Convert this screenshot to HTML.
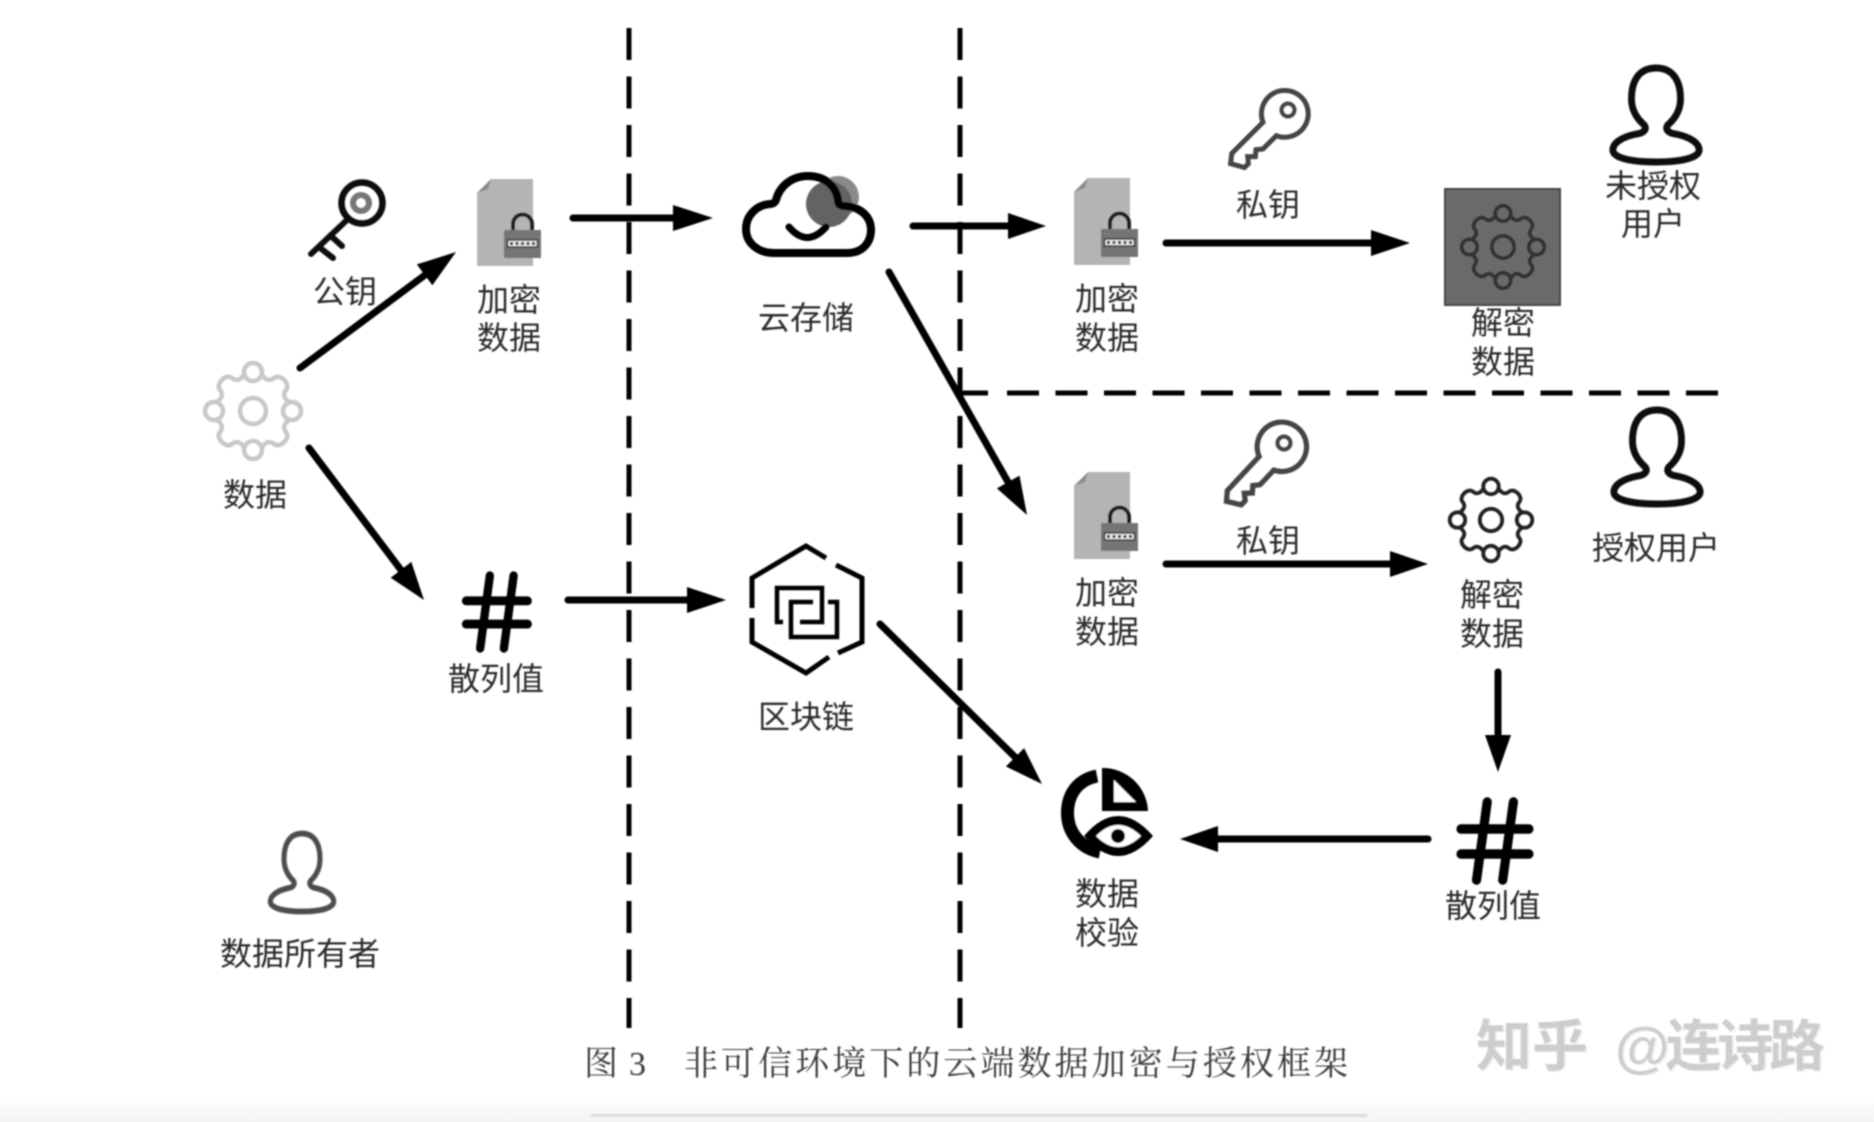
<!DOCTYPE html>
<html lang="zh"><head><meta charset="utf-8"><title>图3</title>
<style>
html,body{margin:0;padding:0;background:#fff;width:1874px;height:1122px;overflow:hidden}
svg{display:block;position:absolute;left:0;top:0}
.t{font-family:"Liberation Sans","Noto Sans CJK SC",sans-serif;font-size:32px;fill:#2a2a2a;text-anchor:middle}
.c{font-family:"Liberation Serif","Noto Serif CJK SC",serif;font-size:34px;fill:#3a3a3a}
.w{font-family:"Liberation Sans","Noto Sans CJK SC",sans-serif;font-size:56px;fill:#cdcdcd;font-weight:700;text-shadow:2px 1px 0 #f4f4f4}
.l{stroke:#000;stroke-width:7;stroke-linecap:round;fill:none}
.d{stroke:#000;stroke-width:5;fill:none;stroke-dasharray:32 16.5}
</style></head><body>
<svg width="1874" height="1122" viewBox="0 0 1874 1122" xmlns="http://www.w3.org/2000/svg">
<defs>
<linearGradient id="bg" x1="0" y1="0" x2="0" y2="1"><stop offset="0" stop-color="#fff"/><stop offset="1" stop-color="#f4f4f4"/></linearGradient>
<filter id="b" x="-5%" y="-5%" width="110%" height="110%"><feGaussianBlur stdDeviation="0.7"/></filter>
<g id="arc" fill="none">
<path d="M-9 -36 Q-15 -28 -21 -33 C-27 -38 -38 -27 -33 -21 Q-28 -15 -36 -9"/>
<circle cx="0" cy="-39" r="9"/>
</g>
<g id="gear" stroke="currentColor" stroke-width="4.5" fill="none">
<circle r="13"/>
<use href="#arc"/><use href="#arc" transform="rotate(90)"/><use href="#arc" transform="rotate(180)"/><use href="#arc" transform="rotate(270)"/>
</g>
<g id="doc">
<path d="M0 14L14 0H56V87H0Z" fill="#b4b4b4"/>
<path d="M0 14L11 10L14 0Z" fill="#8c8c8c"/>
<rect x="27" y="51" width="37" height="28" fill="#757575"/>
<path d="M36 51V45A9.5 9.5 0 0 1 55 45V51" fill="none" stroke="#1c1c1c" stroke-width="4"/>
<rect x="30.500" y="61" width="30" height="7" fill="#eee" stroke="#333" stroke-width="1.500"/>
<path d="M33 64.500H58" stroke="#222" stroke-width="3" stroke-dasharray="3 2.500"/>
</g>
<path id="person" d="M0 3C16 3 25 14 25 34C25 46 19 54 12 60C9 64 12 68 20 69C35 72 44 78 44 85C44 93 25 97 0 97C-25 97 -44 93 -44 85C-44 78 -35 72 -20 69C-12 68 -9 64 -12 60C-19 54 -25 46 -25 34C-25 14 -16 3 0 3Z" fill="none" stroke="#111" stroke-width="7"/>
<g id="key" fill="none" stroke="#444" stroke-width="5.500" stroke-linejoin="miter">
<path d="M-10 23V72L-3 81L11 73V67L5 62L11 56L6 50L11 44V23A26 26 0 1 0 -10 23Z"/>
</g>
<g id="hash" stroke="#000" stroke-width="9.500" stroke-linecap="round" fill="none">
<path d="M-7 -39L-18 39M20 -39L9 39M-34 -12H36M-34 13H36"/>
</g>
</defs>
<rect width="1874" height="1122" fill="#fff"/>
<rect y="1095" width="1874" height="27" fill="url(#bg)"/>
<g filter="url(#b)">

<path class="d" d="M629 28V1028"/>
<path class="d" d="M960 28V1028"/>
<path class="d" d="M960 393H988M1007 393H1719"/>

<use href="#gear" transform="translate(253 411)" color="#c8c8c8"/>
<text class="t" x="255" y="506">数据</text>

<circle cx="362" cy="203" r="20.500" fill="none" stroke="#111" stroke-width="6.500"/>
<circle cx="361" cy="203" r="8" fill="none" stroke="#777" stroke-width="6"/>
<path d="M348 219L311 254M331 236L342 246M319 247L333 258" stroke="#111" stroke-width="6" fill="none" stroke-linecap="round"/>
<text class="t" x="345" y="303">公钥</text>

<use href="#doc" x="477" y="179"/>
<text class="t" x="509" y="311">加密</text>
<text class="t" x="509" y="349">数据</text>

<path class="l" d="M300 368L425 275"/>
<polygon points="456,252 432.400,285.200 416.800,264.400"/>
<path class="l" d="M309 448L401 570"/>
<polygon points="424,600 411.300,561.900 390.700,577.700"/>

<use href="#hash" transform="translate(496 612) scale(.88 .93)"/>
<text class="t" x="496" y="690">散列值</text>

<path class="l" d="M573 218H680"/>
<polygon points="713,218 673,205 673,231"/>
<path class="l" d="M568 600H690"/>
<polygon points="726,600 687,587 687,613"/>

<circle cx="838" cy="197" r="21" fill="#8a8a8a"/>
<circle cx="829" cy="204" r="23" fill="#636363"/>
<path d="M774 253H847C864 253 871 241 871 230C871 216 860 207 845 206C840 206 838 204 838 200C836 186 825 176 808 176C790 176 779 188 776 200C775 203 772 204 770 204C756 205 746 216 746 229C746 243 758 253 774 253Z" fill="none" stroke="#000" stroke-width="8"/>
<path d="M789 227Q807 248 826 227" fill="none" stroke="#000" stroke-width="7" stroke-linecap="round"/>
<text class="t" x="806" y="329">云存储</text>

<path d="M836 565L862 578V642L838 653M829 657L806 673L752 642V618M752 608V578L806 546L826 558" fill="none" stroke="#000" stroke-width="5"/>
<path d="M783 622H777V588H822V622H800M813 602H791V637H837V602H828" fill="none" stroke="#000" stroke-width="4.500"/>
<text class="t" x="806" y="728">区块链</text>

<path class="l" d="M913 226H1012"/>
<polygon points="1046,226 1008,213 1008,239"/>
<path class="l" stroke-width="6" d="M889 272L1008 482"/>
<polygon points="1027,515 1019.500,475.600 996.900,488.400"/>
<path class="l" d="M880 624L1015 757"/>
<polygon points="1042,784 1024.100,748.100 1005.900,766.500"/>

<use href="#doc" x="1074" y="178"/>
<text class="t" x="1107" y="310">加密</text>
<text class="t" x="1107" y="349">数据</text>
<use href="#doc" x="1074" y="472"/>
<text class="t" x="1107" y="604">加密</text>
<text class="t" x="1107" y="643">数据</text>

<use href="#key" transform="translate(1284 114) rotate(45) scale(.9)"/>
<circle cx="1288" cy="110" r="6.500" fill="none" stroke="#444" stroke-width="4"/>
<text class="t" x="1268" y="216">私钥</text>
<use href="#key" transform="translate(1281 447) rotate(43) scale(.95)"/>
<circle cx="1284" cy="443" r="6.500" fill="none" stroke="#444" stroke-width="4"/>
<text class="t" x="1268" y="552">私钥</text>

<path class="l" d="M1166 243H1375"/>
<polygon points="1410,243 1371,230 1371,256"/>
<path class="l" d="M1166 564H1392"/>
<polygon points="1428,564 1390,551 1390,577"/>

<rect x="1445" y="189" width="115" height="116" fill="#6b6b6b" stroke="#444" stroke-width="2"/>
<use href="#gear" transform="translate(1503 247) scale(.86)" color="#333"/>
<text class="t" x="1503" y="334">解密</text>
<text class="t" x="1503" y="373">数据</text>

<use href="#person" transform="translate(1656 65) scale(.98 1)"/>
<text class="t" x="1653" y="197">未授权</text>
<text class="t" x="1653" y="235">用户</text>
<use href="#person" transform="translate(1657 407) scale(.98 1)"/>
<text class="t" x="1656" y="559">授权用户</text>

<use href="#gear" transform="translate(1491 520) scale(.86)" color="#222"/>
<text class="t" x="1492" y="606">解密</text>
<text class="t" x="1492" y="645">数据</text>

<path class="l" stroke-width="6" d="M1498 672V738"/>
<polygon points="1498,772 1485,735 1511,735"/>

<use href="#hash" transform="translate(1494 841) scale(.97 1)"/>
<text class="t" x="1493" y="917">散列值</text>

<path class="l" d="M1428 839H1215"/>
<polygon points="1180,839 1218,826 1218,852"/>

<path d="M1097 776C1077 780 1067.500 795 1067.500 813C1067.500 832 1080 848 1100 852" fill="none" stroke="#000" stroke-width="13"/>
<path d="M1102 768A45 45 0 0 1 1148 811H1102Z" fill="#000"/>
<path d="M1114 780L1136 802H1114Z" fill="#fff"/>
<path d="M1084 836Q1118 796 1153 836Q1118 876 1084 836Z" fill="#000"/>
<path d="M1096 836Q1118 814 1141 836Q1118 858 1096 836Z" fill="#fff"/>
<circle cx="1118" cy="836" r="7" fill="#000"/>
<text class="t" x="1107" y="905">数据</text>
<text class="t" x="1107" y="944">校验</text>

<use href="#person" transform="translate(302 831) scale(.72 .83)" style="opacity:.75"/>
<text class="t" x="300" y="965">数据所有者</text>

<text class="c" x="584" y="1075" textLength="62">图 3</text>
<text class="c" x="684" y="1075" textLength="664" lengthAdjust="spacing">非可信环境下的云端数据加密与授权框架</text>

<text class="w" x="1476" y="1066">知乎</text>
<text class="w" x="1615" y="1066" textLength="210">@连诗路</text>

<rect x="591" y="1114" width="776" height="3" fill="#dcdcdc"/>
</g>
</svg>
</body></html>
